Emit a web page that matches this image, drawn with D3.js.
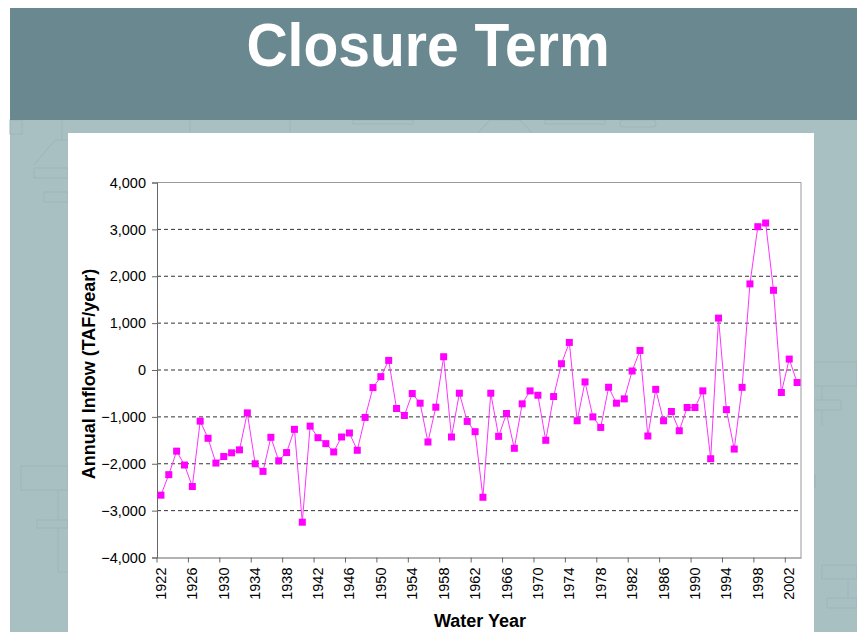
<!DOCTYPE html>
<html>
<head>
<meta charset="utf-8">
<script src="https://cdn.jsdelivr.net/npm/d3@7"></script>
<style>
  body { margin: 0; background: #fff; }
  svg { display: block; font-family: "Liberation Sans", Arial, sans-serif; }
</style>
</head>
<body>
<svg id="slide" width="857" height="632"></svg>
<script>
// water years 1922..2003
const years = d3.range(1922, 2004);
// closure term, TAF/year
const inflow = [
  -2670, -2233, -1731, -2027, -2486, -1091, -1457, -1985, -1846, -1767,
  -1704, -915, -2000, -2163, -1436, -1937, -1761, -1266, -3247, -1197,
  -1444, -1571, -1748, -1429, -1344, -1713, -1012, -375, -142, 205,
  -821, -970, -502, -708, -1536, -793, 283, -1429, -495, -1097,
  -1316, -2715, -495, -1416, -928, -1671, -722, -446, -538, -1500,
  -566, 134, 588, -1083, -255, -1000, -1225, -368, -708, -616,
  -21, 417, -1408, -413, -1083, -885, -1296, -800, -800, -445,
  -1893, 1107, -846, -1687, -370, 1837, 3057, 3135, 1700, -480,
  233, -267
];
const yTicks = [-4000, -3000, -2000, -1000, 0, 1000, 2000, 3000, 4000];
const gridVals = [-3000, -2000, -1000, 0, 1000, 2000, 3000];
const labelYears = years.filter(y => (y - 1922) % 4 === 0);

const svg = d3.select('#slide');

// slide background
svg.append('rect').attr('x', 10).attr('y', 120).attr('width', 847).attr('height', 512).attr('fill', '#a9c0c3');
// faint diagram behind the chart
const ghost = svg.append('g').attr('fill', 'none').attr('stroke', '#9db5b8').attr('stroke-width', 1);
ghost.append('rect').attr('x', 10).attr('y', 120).attr('width', 12).attr('height', 14);
ghost.append('line').attr('x1', 62).attr('y1', 120).attr('x2', 62).attr('y2', 140);
ghost.append('line').attr('x1', 190).attr('y1', 120).attr('x2', 190).attr('y2', 133);
ghost.append('line').attr('x1', 290).attr('y1', 120).attr('x2', 290).attr('y2', 133);
ghost.append('rect').attr('x', 353).attr('y', 120).attr('width', 60).attr('height', 4);
ghost.append('path').attr('d', 'M478,133 L490,120 L520,120 L532,133');
ghost.append('rect').attr('x', 545).attr('y', 120).attr('width', 60).attr('height', 4);
ghost.append('rect').attr('x', 620).attr('y', 120).attr('width', 36).attr('height', 7).attr('rx', 3);
ghost.append('path').attr('d', 'M34,165 L55,140 L68,140');
ghost.append('rect').attr('x', 34).attr('y', 168).attr('width', 34).attr('height', 10);
ghost.append('rect').attr('x', 44).attr('y', 192).attr('width', 24).attr('height', 10);
ghost.append('rect').attr('x', 21).attr('y', 466).attr('width', 47).attr('height', 24);
ghost.append('line').attr('x1', 58).attr('y1', 490).attr('x2', 58).attr('y2', 520);
ghost.append('rect').attr('x', 37).attr('y', 520).attr('width', 31).attr('height', 8);
ghost.append('path').attr('d', 'M68,572 L58,572 L58,528');
ghost.append('rect').attr('x', 814).attr('y', 362).attr('width', 43).attr('height', 24);
ghost.append('rect').attr('x', 814).attr('y', 400).attr('width', 27).attr('height', 10);
ghost.append('line').attr('x1', 822).attr('y1', 386).attr('x2', 822).attr('y2', 400);
ghost.append('line').attr('x1', 822).attr('y1', 410).attr('x2', 822).attr('y2', 426);
ghost.append('rect').attr('x', 814).attr('y', 475).attr('width', 1).attr('height', 12);
ghost.append('rect').attr('x', 822).attr('y', 565).attr('width', 35).attr('height', 14);
ghost.append('rect').attr('x', 827).attr('y', 598).attr('width', 30).attr('height', 10);
ghost.append('line').attr('x1', 848).attr('y1', 579).attr('x2', 848).attr('y2', 598);

// header band
svg.append('rect').attr('x', 10).attr('y', 8).attr('width', 847).attr('height', 112).attr('fill', '#6a8890');
svg.append('text').attr('transform', 'translate(428,66) scale(1,1.06)').attr('text-anchor', 'middle')
  .attr('fill', '#fff').attr('font-size', 57).attr('font-weight', 'bold').text('Closure Term');

// white chart panel
svg.append('rect').attr('x', 68).attr('y', 133).attr('width', 746).attr('height', 499).attr('fill', '#fff');

const plotLeft = 157, plotRight = 801, plotTop = 182.5, plotBottom = 557.5;

const x = d3.scaleBand().domain(years).range([plotLeft, plotRight]);
const y = d3.scaleLinear().domain([-4000, 4000]).range([plotBottom, plotTop]);
const step = x.step();
const cx = d => x(d) + x.bandwidth() / 2;

// gridlines
svg.append('g').selectAll('line').data(gridVals).join('line')
  .attr('x1', plotLeft).attr('x2', plotRight)
  .attr('y1', d => y(d)).attr('y2', d => y(d))
  .attr('stroke', '#333').attr('stroke-width', 1).attr('stroke-dasharray', '4,3');

// plot frame (top / right)
svg.append('path').attr('d', `M${plotLeft},${plotTop}H${plotRight}V${plotBottom}`)
  .attr('fill', 'none').attr('stroke', '#999');

// y axis
const yAxis = svg.append('g').attr('transform', `translate(${plotLeft},0)`)
  .call(d3.axisLeft(y).tickValues(yTicks).tickSize(5).tickPadding(6).tickFormat(d3.format(',')));
yAxis.select('.domain').attr('stroke', '#666');
yAxis.selectAll('.tick line').attr('stroke', '#666');
yAxis.selectAll('text').attr('font-size', 14.5).attr('fill', '#000')
  .attr('font-family', '"Liberation Sans", Arial, sans-serif');

// x axis: ticks on category boundaries, labels on categories
const xAxis = svg.append('g').attr('transform', `translate(0,${plotBottom})`)
  .call(d3.axisBottom(x).tickValues(labelYears).tickSize(5).tickSizeOuter(0));
xAxis.select('.domain').attr('stroke', '#666');
xAxis.selectAll('.tick line').attr('stroke', '#666').attr('transform', `translate(${-step / 2},0)`);
xAxis.selectAll('.tick text')
  .attr('font-size', 14.5).attr('fill', '#000')
  .attr('font-family', '"Liberation Sans", Arial, sans-serif')
  .attr('transform', 'rotate(-90)')
  .attr('x', -10).attr('y', 0).attr('dy', '0.35em')
  .style('text-anchor', 'end');

// axis titles
svg.append('text').attr('transform', `translate(95,${(plotTop + plotBottom) / 2 + 4}) rotate(-90)`)
  .attr('text-anchor', 'middle').attr('font-size', 18).attr('font-weight', 'bold').text('Annual Inflow (TAF/year)');
svg.append('text').attr('x', 480).attr('y', 627).attr('text-anchor', 'middle')
  .attr('font-size', 18).attr('font-weight', 'bold').text('Water Year');

// series
const line = d3.line().x((d, i) => cx(years[i])).y(d => y(d));
svg.append('path').datum(inflow).attr('d', line)
  .attr('fill', 'none').attr('stroke', '#ff33ff').attr('stroke-width', 1);

svg.append('g').selectAll('rect').data(inflow).join('rect')
  .attr('x', (d, i) => cx(years[i]) - 3.5).attr('y', d => y(d) - 3.5)
  .attr('width', 7).attr('height', 7).attr('fill', '#ff00ff');
</script>
</body>
</html>
